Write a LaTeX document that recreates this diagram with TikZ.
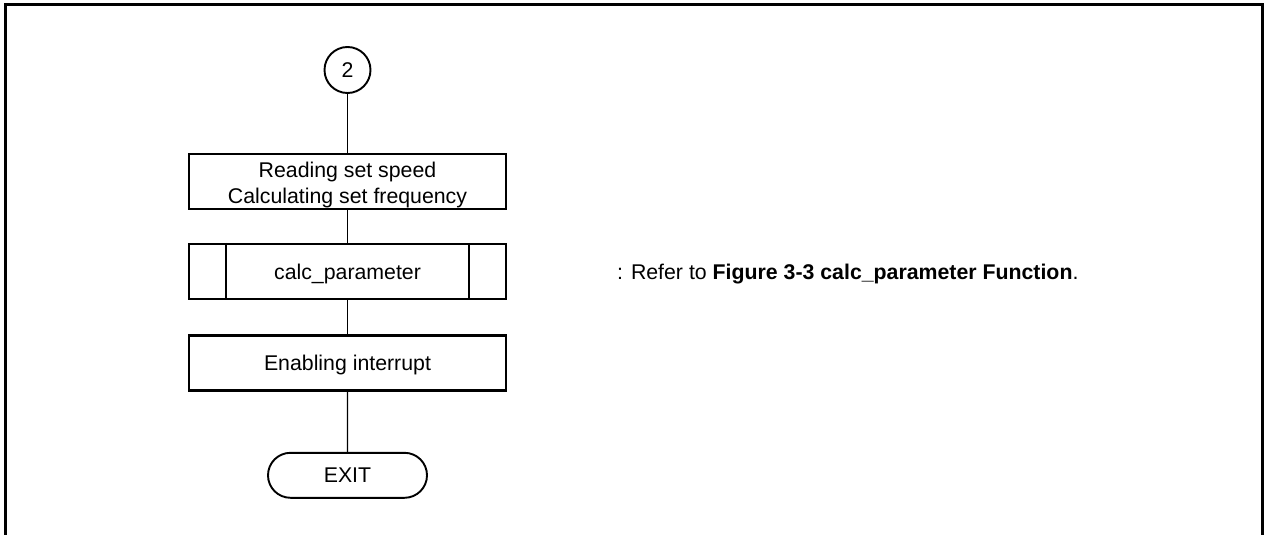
\documentclass[tikz,border=0pt]{standalone}
\usepackage{fontspec}
\setmainfont{Liberation Sans}
\usetikzlibrary{shapes.misc}
\begin{document}
\begin{tikzpicture}[x=1pt,y=-1pt,
  every node/.style={font=\fontsize{21.3}{26}\selectfont, inner sep=0pt},
  procbox/.style={draw, line width=2.1pt, minimum width=317pt, minimum height=55pt, align=center},
  oneline/.style={text depth=0pt},
  subbox/.style={procbox, oneline},
  connector/.style={draw, line width=1.1pt},
  terminal/.style={draw, line width=1.9pt, rounded rectangle, minimum width=159pt, minimum height=45pt},
  joint/.style={draw, line width=1.9pt, circle, minimum size=46pt}]
\useasboundingbox (0,0) rectangle (1266,535);
% outer frame, open at the bottom
\draw[line width=3pt] (5,540) -- (5,5) -- (1262,5) -- (1262,540);

\node[joint] (c2) at (347.5,70) {2};
\node[procbox] (read) at (347.5,181.7)
  {\raisebox{-3.5pt}[\height][\depth]{\begin{tabular}{@{}c@{}}Reading set speed\\Calculating set frequency\end{tabular}}};
\node[subbox] (calc) at (347.5,271.3) {calc\_parameter};
\draw[line width=2.1pt] ([xshift=38.4pt]calc.north west) -- ([xshift=38.4pt]calc.south west)
                        ([xshift=-38.4pt]calc.north east) -- ([xshift=-38.4pt]calc.south east);
\node[procbox, oneline] (intr) at (347.5,363) {Enabling interrupt};
\node[terminal] (exit) at (347.5,475.3) {EXIT};

\draw[connector] (c2) -- (read);
\draw[connector] (read) -- (calc);
\draw[connector] (calc) -- (intr);
\draw[connector] (intr) -- (exit);

\node[anchor=base west] (note) at (617,279.5) {: Refer to \textbf{Figure 3-3 calc\_parameter Function}.};
\end{tikzpicture}
\end{document}
